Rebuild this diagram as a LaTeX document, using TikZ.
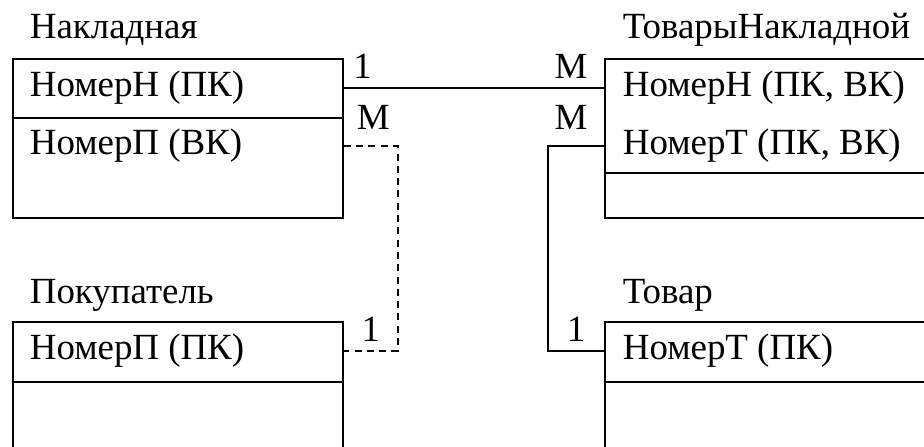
\documentclass[tikz,border=0pt]{standalone}
\usepackage{fontspec}
\setmainfont{Liberation Serif}
\begin{document}
\begin{tikzpicture}[line width=1pt,
	font=\fontsize{21}{25}\selectfont,
	entity/.style={draw, minimum width=6.6cm, inner sep=0pt, anchor=north west},
	field/.style={inner sep=0pt, anchor=west},
	enttitle/.style={inner sep=0pt, anchor=base west},
	card/.style={inner sep=5pt}]
		\clip (0,0) rectangle (18.48,-8.92);
		%Nakladnaya
		\node[enttitle] (nakName) at (0.58,-0.78) {Накладная};
		\node[entity, minimum height=3.18cm] (nak) at (0.24,-1.16) {};
		\draw ([yshift=-1.2cm]nak.north west) -- ([yshift=-1.2cm]nak.north east);
		\node[field] (nakH) at (0.58,-1.76) {НомерН (ПК)};
		\node[field] (nakP) at (0.58,-2.92) {НомерП (ВК)};
		%TovaryNakladnoy
		\node[enttitle] (tnName) at (12.44,-0.78) {ТоварыНакладной};
		\node[entity, minimum width=7.2cm, minimum height=3.18cm] (tn) at (12.08,-1.16) {};
		\draw ([yshift=-2.3cm]tn.north west) -- ([yshift=-2.3cm]tn.north east);
		\node[field] (tnH) at (12.44,-1.76) {НомерН (ПК, ВК)};
		\node[field] (tnT) at (12.44,-2.92) {НомерТ (ПК, ВК)};
		%Pokupatel
		\node[enttitle] (pokName) at (0.58,-6.06) {Покупатель};
		\node[entity, minimum height=3cm] (pok) at (0.24,-6.42) {};
		\draw ([yshift=-1.22cm]pok.north west) -- ([yshift=-1.22cm]pok.north east);
		\node[field] (pokP) at (0.58,-7.02) {НомерП (ПК)};
		%Tovar
		\node[enttitle] (tovName) at (12.44,-6.06) {Товар};
		\node[entity, minimum width=7.2cm, minimum height=3cm] (tov) at (12.08,-6.42) {};
		\draw ([yshift=-1.22cm]tov.north west) -- ([yshift=-1.22cm]tov.north east);
		\node[field] (tovT) at (12.44,-7.02) {НомерТ (ПК)};
		%links
		\draw (nakH -| nak.east) node[card, anchor=south west] {1}
			-- (tnH -| tn.west) node[card, anchor=south east, xshift=-4pt] {М};
		\draw[dash pattern=on 4pt off 3pt] (nakP -| nak.east) node[card, anchor=south west, xshift=2pt, yshift=4pt] {М}
			-- ++(1.08,0) |- node[pos=0.75, card, above] {1} (pokP -| pok.east);
		\draw (tnT -| tn.west) node[card, anchor=south east, xshift=-4pt, yshift=4pt] {М}
			-- ++(-1.12,0) |- node[pos=0.75, card, above] {1} (tovT -| tov.west);
	\end{tikzpicture}
\end{document}
